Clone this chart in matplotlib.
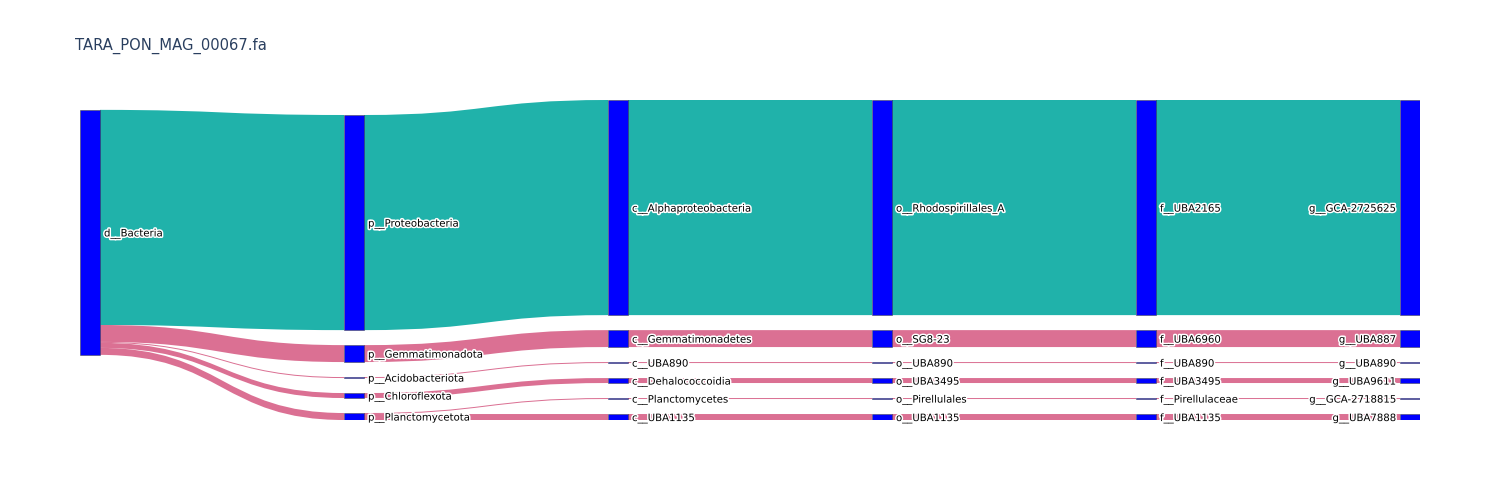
import matplotlib
matplotlib.use("Agg")
import matplotlib.pyplot as plt
import matplotlib.patheffects as pe
from matplotlib.path import Path
from matplotlib.patches import PathPatch, Rectangle

title = "TARA_PON_MAG_00067.fa"

# one row per genome lineage: domain -> genus
lineages = [
    ["d__Bacteria", "p__Proteobacteria", "c__Alphaproteobacteria", "o__Rhodospirillales_A", "f__UBA2165", "g__GCA-2725625"],
    ["d__Bacteria", "p__Gemmatimonadota", "c__Gemmatimonadetes", "o__SG8-23", "f__UBA6960", "g__UBA887"],
    ["d__Bacteria", "p__Acidobacteriota", "c__UBA890", "o__UBA890", "f__UBA890", "g__UBA890"],
    ["d__Bacteria", "p__Chloroflexota", "c__Dehalococcoidia", "o__UBA3495", "f__UBA3495", "g__UBA9611"],
    ["d__Bacteria", "p__Planctomycetota", "c__Planctomycetes", "o__Pirellulales", "f__Pirellulaceae", "g__GCA-2718815"],
    ["d__Bacteria", "p__Planctomycetota", "c__UBA1135", "o__UBA1135", "f__UBA1135", "g__UBA7888"],
]
counts = [216, 17, 1, 5, 1, 6]
link_colors = ["#20B2AA", "#DB7093", "#DB7093", "#DB7093", "#DB7093", "#DB7093"]

node_color = "#0000FF"
W, H = 1340, 320          # sankey area in pixels
node_w, pad = 20, 15

# build nodes and links
nodes, index = [], {}
for lin in lineages:
    for lev, name in enumerate(lin):
        if (lev, name) not in index:
            index[(lev, name)] = len(nodes)
            nodes.append({"name": name, "col": lev, "src": [], "tgt": []})

link_vals, link_col = {}, {}
for lin, n, c in zip(lineages, counts, link_colors):
    for lev in range(len(lin) - 1):
        k = (index[(lev, lin[lev])], index[(lev + 1, lin[lev + 1])])
        link_vals[k] = link_vals.get(k, 0) + n
        link_col.setdefault(k, c)

links = []
for (s, t), v in link_vals.items():
    lk = {"s": nodes[s], "t": nodes[t], "v": v, "color": link_col[(s, t)]}
    links.append(lk)
    nodes[s]["src"].append(lk)
    nodes[t]["tgt"].append(lk)

for nd in nodes:
    nd["value"] = max(sum(l["v"] for l in nd["src"]), sum(l["v"] for l in nd["tgt"]))

ncols = max(nd["col"] for nd in nodes) + 1
columns = [[nd for nd in nodes if nd["col"] == c] for c in range(ncols)]
for nd in nodes:
    nd["x0"] = nd["col"] * (W - node_w) / (ncols - 1)
    nd["x1"] = nd["x0"] + node_w


def center(nd):
    return (nd["y0"] + nd["y1"]) / 2


def resolve():
    # nodes keep their input order inside a column
    for col in columns:
        y = 0
        for nd in col:
            dy = y - nd["y0"]
            if dy > 0:
                nd["y0"] += dy
                nd["y1"] += dy
            y = nd["y1"] + pad
        dy = y - pad - H
        if dy > 0:
            nd = col[-1]
            nd["y0"] -= dy
            nd["y1"] -= dy
            y = nd["y0"]
            for nd in col[-2::-1]:
                dy = nd["y1"] + pad - y
                if dy > 0:
                    nd["y0"] -= dy
                    nd["y1"] -= dy
                y = nd["y0"]


# d3-sankey style layout
ky = min((H - (len(col) - 1) * pad) / sum(n["value"] for n in col) for col in columns)
for col in columns:
    for i, nd in enumerate(col):
        nd["y0"] = i
        nd["y1"] = i + nd["value"] * ky
for lk in links:
    lk["w"] = lk["v"] * ky

resolve()
alpha = 1.0
for _ in range(50):
    alpha *= 0.99
    for col in columns[::-1]:
        for nd in col:
            if nd["src"]:
                tot = sum(l["v"] for l in nd["src"])
                dy = (sum(center(l["t"]) * l["v"] for l in nd["src"]) / tot - center(nd)) * alpha
                nd["y0"] += dy
                nd["y1"] += dy
    resolve()
    for col in columns:
        for nd in col:
            if nd["tgt"]:
                tot = sum(l["v"] for l in nd["tgt"])
                dy = (sum(center(l["s"]) * l["v"] for l in nd["tgt"]) / tot - center(nd)) * alpha
                nd["y0"] += dy
                nd["y1"] += dy
    resolve()

for nd in nodes:
    nd["src"].sort(key=lambda l: l["t"]["y0"])
    nd["tgt"].sort(key=lambda l: l["s"]["y0"])
    y = nd["y0"]
    for lk in nd["src"]:
        lk["sy"] = y
        y += lk["w"]
    y = nd["y0"]
    for lk in nd["tgt"]:
        lk["ty"] = y
        y += lk["w"]

fig = plt.figure(figsize=(15, 5), dpi=100)
ax = fig.add_axes([80 / 1500, 80 / 500, W / 1500, H / 500])
ax.set_xlim(0, W)
ax.set_ylim(H, 0)
ax.axis("off")

for lk in links:
    x0, x1 = lk["s"]["x1"], lk["t"]["x0"]
    xm = (x0 + x1) / 2
    a, b, w = lk["sy"], lk["ty"], lk["w"]
    verts = [(x0, a), (xm, a), (xm, b), (x1, b), (x1, b + w),
             (xm, b + w), (xm, a + w), (x0, a + w), (x0, a)]
    codes = [Path.MOVETO, Path.CURVE4, Path.CURVE4, Path.CURVE4, Path.LINETO,
             Path.CURVE4, Path.CURVE4, Path.CURVE4, Path.CLOSEPOLY]
    ax.add_patch(PathPatch(Path(verts, codes), facecolor=lk["color"], edgecolor="none", zorder=1))

halo = [pe.withStroke(linewidth=2.2, foreground="white")]
for nd in nodes:
    ax.add_patch(Rectangle((nd["x0"], nd["y0"]), node_w, nd["y1"] - nd["y0"],
                           facecolor=node_color, edgecolor="#444444", linewidth=0.36, zorder=2))
    ty = center(nd) + 1.5
    if nd["col"] == ncols - 1:
        ax.text(nd["x0"] - 4, ty, nd["name"], ha="right", va="center",
                fontsize=7.3, family="DejaVu Sans", color="black", path_effects=halo, zorder=3)
    else:
        ax.text(nd["x1"] + 4, ty, nd["name"], ha="left", va="center",
                fontsize=7.3, family="DejaVu Sans", color="black", path_effects=halo, zorder=3)

fig.text(75 / 1500, 1 - 45.5 / 500, title, ha="left", va="center",
         fontsize=10.6, family="DejaVu Sans", color="#2a3f5f")

fig.savefig("out.png")
